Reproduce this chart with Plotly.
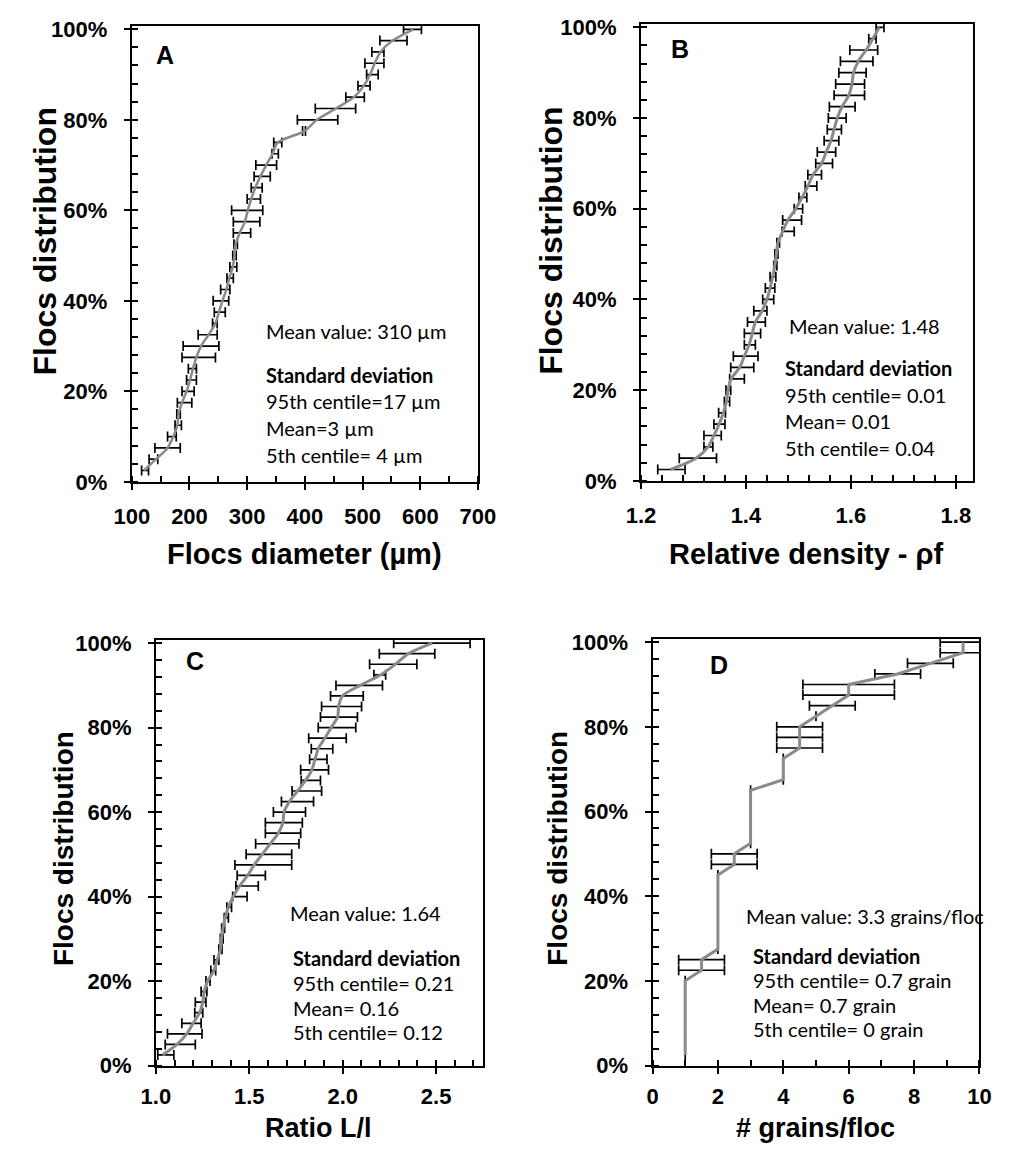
import plotly.graph_objects as go

W, H = 1009, 1157

# cumulative share of flocs (y of every point, shared by the four panels)
cum_share = [0.025, 0.050, 0.075, 0.100, 0.125, 0.150, 0.175, 0.200, 0.225, 0.250,
             0.275, 0.300, 0.325, 0.350, 0.375, 0.400, 0.425, 0.450, 0.475, 0.500,
             0.525, 0.550, 0.575, 0.600, 0.625, 0.650, 0.675, 0.700, 0.725, 0.750,
             0.775, 0.800, 0.825, 0.850, 0.875, 0.900, 0.925, 0.950, 0.975, 1.000]

# A - floc diameter (µm) with 95 % interval bounds
diam = [121, 142, 162, 172, 179, 181, 187, 195, 201, 206, 212, 220, 233, 245, 251, 257,
        264, 269, 275, 278, 280, 287, 296, 301, 307, 314, 323, 333, 344, 353, 399, 421,
        454, 485, 502, 513, 521, 531, 552, 588]
diam_lo = [117, 130, 140, 162, 175, 178, 179, 187, 195, 198, 187, 189, 215, 240, 243, 241,
           254, 265, 270, 275, 277, 276, 276, 273, 300, 307, 312, 315, 343, 346, 396, 387,
           418, 471, 492, 507, 504, 516, 530, 571]
diam_hi = [129, 145, 184, 177, 186, 184, 204, 208, 212, 212, 245, 251, 248, 248, 262, 268,
           270, 276, 282, 281, 283, 306, 322, 327, 323, 326, 340, 351, 354, 360, 401, 457,
           488, 503, 513, 527, 537, 537, 577, 602]

# B - relative density
dens = [1.256, 1.305, 1.328, 1.339, 1.349, 1.357, 1.363, 1.366, 1.372, 1.388, 1.397, 1.406,
        1.412, 1.418, 1.431, 1.440, 1.446, 1.451, 1.455, 1.458, 1.461, 1.470, 1.480, 1.495,
        1.507, 1.518, 1.528, 1.544, 1.553, 1.562, 1.568, 1.574, 1.583, 1.596, 1.602, 1.605,
        1.614, 1.629, 1.642, 1.654]
dens_lo = [1.232, 1.273, 1.320, 1.320, 1.339, 1.348, 1.359, 1.362, 1.369, 1.371, 1.376, 1.397,
           1.397, 1.403, 1.415, 1.432, 1.437, 1.446, 1.453, 1.455, 1.459, 1.469, 1.470, 1.492,
           1.501, 1.513, 1.518, 1.533, 1.536, 1.549, 1.555, 1.557, 1.559, 1.568, 1.571, 1.577,
           1.580, 1.598, 1.634, 1.648]
dens_hi = [1.284, 1.344, 1.337, 1.353, 1.360, 1.361, 1.369, 1.371, 1.397, 1.415, 1.423, 1.418,
           1.428, 1.437, 1.440, 1.453, 1.455, 1.457, 1.459, 1.461, 1.464, 1.492, 1.506, 1.508,
           1.516, 1.535, 1.544, 1.565, 1.571, 1.577, 1.582, 1.591, 1.608, 1.626, 1.626, 1.629,
           1.642, 1.651, 1.648, 1.663]

# C - elongation ratio L/l
ratio = [1.036, 1.113, 1.165, 1.199, 1.234, 1.251, 1.259, 1.277, 1.311, 1.328, 1.345, 1.351,
         1.359, 1.371, 1.388, 1.414, 1.448, 1.491, 1.526, 1.569, 1.612, 1.655, 1.680, 1.686,
         1.715, 1.758, 1.801, 1.835, 1.852, 1.869, 1.904, 1.938, 1.973, 1.978, 1.998, 2.093,
         2.204, 2.282, 2.351, 2.479]
ratio_lo = [1.010, 1.050, 1.062, 1.139, 1.208, 1.211, 1.242, 1.268, 1.294, 1.311, 1.337, 1.345,
            1.352, 1.366, 1.380, 1.411, 1.428, 1.435, 1.423, 1.483, 1.534, 1.586, 1.586, 1.629,
            1.672, 1.729, 1.778, 1.775, 1.823, 1.832, 1.818, 1.869, 1.881, 1.887, 1.935, 1.964,
            2.167, 2.144, 2.196, 2.273]
ratio_hi = [1.096, 1.211, 1.247, 1.242, 1.251, 1.268, 1.273, 1.290, 1.320, 1.337, 1.354, 1.360,
            1.368, 1.388, 1.405, 1.488, 1.548, 1.586, 1.727, 1.727, 1.766, 1.775, 1.784, 1.801,
            1.844, 1.887, 1.881, 1.924, 1.916, 1.947, 2.019, 2.070, 2.079, 2.101, 2.110, 2.213,
            2.230, 2.397, 2.493, 2.682]

# D - number of grains per floc
grains = [1, 1, 1, 1, 1, 1, 1, 1, 1.5, 1.5, 2, 2, 2, 2, 2, 2, 2, 2, 2.5, 2.5,
          3, 3, 3, 3, 3, 3, 4, 4, 4, 4.5, 4.5, 4.5, 5, 5.5, 6, 6, 7.5, 8.5, 9.5, 9.5]
grains_lo = [1, 1, 1, 1, 1, 1, 1, 1, 0.8, 0.8, 2, 2, 2, 2, 2, 2, 2, 2, 1.8, 1.8,
             3, 3, 3, 3, 3, 3, 4, 4, 4, 3.8, 3.8, 3.8, 5, 4.8, 4.6, 4.6, 6.8, 7.8, 8.8, 8.8]
grains_hi = [1, 1, 1, 1, 1, 1, 1, 1, 2.2, 2.2, 2, 2, 2, 2, 2, 2, 2, 2, 3.2, 3.2,
             3, 3, 3, 3, 3, 3, 4, 4, 4, 5.2, 5.2, 5.2, 5, 6.2, 7.4, 7.4, 8.2, 9.2, 10.2, 10.2]

panel_letters = ["A", "B", "C", "D"]
x_titles = ["Flocs diameter (µm)", "Relative density - ρf", "Ratio L/l", "# grains/floc"]
y_title = "Flocs distribution"

stats_text = [
    ["Mean value: 310 µm", "Standard deviation", "95th centile=17 µm", "Mean=3 µm", "5th centile= 4 µm"],
    ["Mean value: 1.48", "Standard deviation", "95th centile= 0.01", "Mean= 0.01", "5th centile= 0.04"],
    ["Mean value: 1.64", "Standard deviation", "95th centile= 0.21", "Mean= 0.16", "5th centile= 0.12"],
    ["Mean value: 3.3 grains/floc", "Standard deviation", "95th centile= 0.7 grain", "Mean= 0.7 grain", "5th centile= 0 grain"],
]


def fx(px):
    return px / W


def fy(py):
    return 1 - py / H


# plot-box geometry in pixels: (left, right, top, bottom)
boxes = [(118, 477, 17, 482), (646, 990, 15, 481), (143, 482, 643, 1077), (658, 997, 642, 1077)]

x_axes = [
    dict(range=[100, 700], dtick=100, tick0=100, minor_dtick=50, fmt=None, standoff=8),
    dict(range=[1.2, 1.832], dtick=0.2, tick0=1.2, minor_dtick=0.04, fmt=".1f", standoff=8),
    dict(range=[1.0, 2.75], dtick=0.5, tick0=1.0, minor_dtick=0.1, fmt=".1f", standoff=4),
    dict(range=[0, 10], dtick=2, tick0=0, minor_dtick=1, fmt=None, standoff=4),
]

series = [(diam, diam_lo, diam_hi, "spline", 2.5),
          (dens, dens_lo, dens_hi, "spline", 3),
          (ratio, ratio_lo, ratio_hi, "spline", 3),
          (grains, grains_lo, grains_hi, "linear", 3)]

fig = go.Figure()

tick_font = dict(family="Liberation Sans, Arial, sans-serif", size=22, color="black", weight="bold")

for i, (vals, lo, hi, shape, lw) in enumerate(series):
    n = "" if i == 0 else str(i + 1)
    xa, ya = "x" + n, "y" + n
    # horizontal uncertainty bars first, so the curve sits on top of them
    fig.add_trace(go.Scatter(
        x=vals, y=cum_share, xaxis=xa, yaxis=ya, mode="markers",
        marker=dict(size=2, opacity=0),
        error_x=dict(type="data", symmetric=False,
                     array=[h - v for h, v in zip(hi, vals)],
                     arrayminus=[v - l for v, l in zip(vals, lo)],
                     color="black", thickness=1.7, width=5),
        showlegend=False, hoverinfo="skip"))
    fig.add_trace(go.Scatter(
        x=vals, y=cum_share, xaxis=xa, yaxis=ya, mode="lines",
        line=dict(color="#8a8a8a", width=lw, shape=shape, smoothing=0.8 if shape == "spline" else None),
        showlegend=False))

    left, right, top, bottom = boxes[i]
    xa_cfg = x_axes[i]
    fig.layout["xaxis" + n] = dict(
        domain=[fx(left), fx(right)], range=xa_cfg["range"], anchor=ya,
        dtick=xa_cfg["dtick"], tick0=xa_cfg["tick0"], tickformat=xa_cfg["fmt"],
        showline=True, linecolor="black", linewidth=2, mirror=True,
        ticks="outside", ticklen=6, tickwidth=2, tickcolor="black",
        ticklabelstandoff=xa_cfg["standoff"],
        tickfont=tick_font, showgrid=False, zeroline=False,
        minor=dict(dtick=xa_cfg["minor_dtick"], tick0=xa_cfg["tick0"], ticks="inside",
                   ticklen=6, tickwidth=1.6, tickcolor="black", showgrid=False))
    fig.layout["yaxis" + n] = dict(
        domain=[fy(bottom), fy(top)], range=[0, 1.008], anchor=xa,
        dtick=0.2, tick0=0, tickformat=".0%",
        showline=True, linecolor="black", linewidth=2, mirror=True,
        ticks="outside", ticklen=6, tickwidth=2, tickcolor="black",
        ticklabelstandoff=12,
        tickfont=tick_font, showgrid=False, zeroline=False,
        minor=dict(dtick=0.04, tick0=0, ticks="inside", ticklen=6, tickwidth=1.6,
                   tickcolor="black", showgrid=False))

annotations = []

# panel letters
letter_pos = [(152, 47), (686, 41), (184, 665), (727, 669)]
for txt, (px, py) in zip(panel_letters, letter_pos):
    annotations.append(dict(x=fx(px), y=fy(py), xref="paper", yref="paper", text=txt,
                            showarrow=False, xanchor="center", yanchor="middle",
                            font=dict(family="Liberation Sans, Arial", size=25, color="black", weight="bold")))

# axis titles: (x, y, font size)
x_title_pos = [(297, 556, 29), (818, 556, 29), (312, 1141, 27), (827, 1141, 27)]
for txt, (px, py, fs) in zip(x_titles, x_title_pos):
    annotations.append(dict(x=fx(px), y=fy(py), xref="paper", yref="paper", text=txt,
                            showarrow=False, xanchor="center", yanchor="middle",
                            font=dict(family="Liberation Sans, Arial", size=fs, color="black", weight="bold")))

y_title_pos = [(28, 237, 32), (552, 236, 32), (47, 856, 28), (560, 856, 28)]
for px, py, fs in y_title_pos:
    annotations.append(dict(x=fx(px), y=fy(py), xref="paper", yref="paper", text=y_title,
                            textangle=-90, showarrow=False, xanchor="center", yanchor="middle",
                            font=dict(family="Liberation Sans, Arial", size=fs, color="black", weight="bold")))

# statistics blocks: (left of first line, left of the rest, y of each line)
stats_pos = [
    (255, 255, [328, 373, 400, 427, 455]),
    (797, 793, [323, 366, 393, 420, 447]),
    (280, 283, [922, 967, 993, 1018, 1043]),
    (753, 760, [925, 965, 990, 1015, 1040]),
]
for lines, (x0, x1, ys) in zip(stats_text, stats_pos):
    for j, (txt, py) in enumerate(zip(lines, ys)):
        annotations.append(dict(x=fx(x0 if j == 0 else x1), y=fy(py), xref="paper", yref="paper",
                                text=txt, showarrow=False, xanchor="left", yanchor="middle",
                                font=dict(family="Lato, Carlito, sans-serif", size=20, color="black",
                                          weight="bold" if j == 1 else "normal")))

fig.update_layout(width=W, height=H, margin=dict(l=0, r=0, t=0, b=0),
                  paper_bgcolor="white", plot_bgcolor="white",
                  annotations=annotations, showlegend=False)

fig.write_html("out.html")
